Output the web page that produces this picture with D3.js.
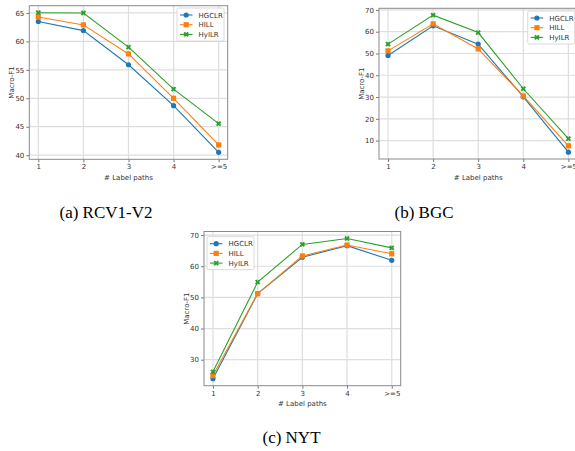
<!DOCTYPE html>
<html><head><meta charset="utf-8">
<script src="https://cdn.jsdelivr.net/npm/d3@7"></script>
<style>
html,body{margin:0;padding:0;background:#fff;}
svg{display:block;}
.tick text{font-family:"DejaVu Sans",sans-serif;font-size:7px;fill:#333;}
.cap{font-family:"Liberation Serif","Times New Roman",serif;font-size:17px;fill:#000;}
</style></head>
<body>
<svg id="chart" width="575" height="451"></svg>
<script>
// ---- data ----
const categories = ["1", "2", "3", "4", ">=5"];
const seriesNames = ["HGCLR", "HILL", "HyILR"];

const rcvHGCLR = [63.5, 61.9, 55.9, 48.7, 40.5];
const rcvHILL  = [64.3, 62.9, 57.8, 50.0, 41.8];
const rcvHyILR = [65.05, 65.0, 59.0, 51.6, 45.55];

const bgcHGCLR = [49.1, 62.7, 54.3, 30.1, 4.7];
const bgcHILL  = [51.2, 63.6, 52.1, 30.5, 7.6];
const bgcHyILR = [54.3, 67.6, 59.6, 33.8, 10.9];

const nytHGCLR = [23.9, 51.2, 62.9, 66.6, 61.9];
const nytHILL  = [24.9, 51.2, 63.3, 66.8, 64.0];
const nytHyILR = [26.1, 54.9, 67.0, 68.9, 65.9];

const rcvTicks = [40, 45, 50, 55, 60, 65];
const bgcTicks = [10, 20, 30, 40, 50, 60, 70];
const nytTicks = [30, 40, 50, 60, 70];

const captions = ["(a) RCV1-V2", "(b) BGC", "(c) NYT"];

// ---- layout ----
const colors = ["#1f77b4", "#ff7f0e", "#2ca02c"];
const svg = d3.select("#chart");

const panels = [
  {box:{l:29.3, t:5.7, w:198.4, h:153.6}, series:[rcvHGCLR, rcvHILL, rcvHyILR], ticks:rcvTicks,
   legend:{x:177, y:8}, caption:{x:106, y:218}, text:captions[0]},
  {box:{l:379, t:8.3, w:198.4, h:150.7}, series:[bgcHGCLR, bgcHILL, bgcHyILR], ticks:bgcTicks,
   legend:{x:527.7, y:11}, caption:{x:424, y:218}, text:captions[1]},
  {box:{l:204, t:231.5, w:196.7, h:154.2}, series:[nytHGCLR, nytHILL, nytHyILR], ticks:nytTicks,
   legend:{x:207, y:236.7}, caption:{x:291.5, y:443}, text:captions[2]}
];

function marker(g, i, cx, cy) {
  if (i === 0) {
    g.append("circle").attr("cx", cx).attr("cy", cy).attr("r", 2.6).attr("fill", colors[i]);
  } else if (i === 1) {
    g.append("rect").attr("x", cx - 2.6).attr("y", cy - 2.6).attr("width", 5.2).attr("height", 5.2).attr("fill", colors[i]);
  } else {
    g.append("path").attr("d", d3.symbol().type(d3.symbolCross).size(18)())
      .attr("transform", `translate(${cx},${cy}) rotate(45)`).attr("fill", colors[i]);
  }
}

panels.forEach(p => {
  const b = p.box;
  const all = p.series.flat();
  const mn = d3.min(all), mx = d3.max(all), pad = (mx - mn) * 0.05;
  const x = d3.scalePoint().domain(categories).range([b.l + b.w * 0.2 / 4.4, b.l + b.w * 4.2 / 4.4]);
  const y = d3.scaleLinear().domain([mn - pad, mx + pad]).range([b.t + b.h, b.t]);

  const g = svg.append("g");
  // grid
  g.append("g").selectAll("line").data(categories).join("line")
    .attr("x1", d => x(d)).attr("x2", d => x(d)).attr("y1", b.t).attr("y2", b.t + b.h)
    .attr("stroke", "#dedede").attr("stroke-width", 1.2);
  g.append("g").selectAll("line").data(p.ticks).join("line")
    .attr("x1", b.l).attr("x2", b.l + b.w).attr("y1", d => y(d)).attr("y2", d => y(d))
    .attr("stroke", "#dedede").attr("stroke-width", 1.2);

  // axes
  const xa = g.append("g").attr("transform", `translate(0,${b.t + b.h})`)
    .call(d3.axisBottom(x).tickSize(3).tickPadding(2));
  const ya = g.append("g").attr("transform", `translate(${b.l},0)`)
    .call(d3.axisLeft(y).tickValues(p.ticks).tickSize(3).tickPadding(2));
  [xa, ya].forEach(a => {
    a.select(".domain").remove();
    a.selectAll(".tick line").attr("stroke", "#555").attr("stroke-width", 0.8);
  });
  // frame
  g.append("rect").attr("x", b.l).attr("y", b.t).attr("width", b.w).attr("height", b.h)
    .attr("fill", "none").attr("stroke", "#8a8a8a").attr("stroke-width", 1);

  // lines + markers
  p.series.forEach((s, i) => {
    const line = d3.line().x((d, j) => x(categories[j])).y(d => y(d));
    g.append("path").datum(s).attr("d", line).attr("fill", "none")
      .attr("stroke", colors[i]).attr("stroke-width", 1.1);
    const mg = g.append("g");
    s.forEach((v, j) => marker(mg, i, x(categories[j]), y(v)));
  });

  // legend
  const L = p.legend;
  const lg = g.append("g");
  lg.append("rect").attr("x", L.x).attr("y", L.y).attr("width", 47).attr("height", 33).attr("rx", 1.5)
    .attr("fill", "rgba(255,255,255,0.85)").attr("stroke", "#d0d0d0").attr("stroke-width", 0.8);
  seriesNames.forEach((n, i) => {
    const cy = L.y + 7 + i * 9.7;
    lg.append("line").attr("x1", L.x + 3).attr("x2", L.x + 15.5).attr("y1", cy).attr("y2", cy)
      .attr("stroke", colors[i]).attr("stroke-width", 1.1);
    marker(lg, i, L.x + 9.2, cy);
    lg.append("text").attr("x", L.x + 21.5).attr("y", cy + 2.5).text(n)
      .attr("font-family", "DejaVu Sans, sans-serif").attr("font-size", 7).attr("fill", "#333");
  });

  // axis labels
  g.append("text").attr("x", b.l + b.w / 2).attr("y", b.t + b.h + 20.5).attr("text-anchor", "middle")
    .attr("font-family", "DejaVu Sans, sans-serif").attr("font-size", 7).attr("fill", "#333").text("# Label paths");
  g.append("text").attr("transform", `translate(${b.l - 15},${b.t + b.h / 2}) rotate(-90)`)
    .attr("text-anchor", "middle").attr("font-family", "DejaVu Sans, sans-serif").attr("font-size", 7)
    .attr("fill", "#333").text("Macro-F1");

  // caption
  svg.append("text").attr("class", "cap").attr("x", p.caption.x).attr("y", p.caption.y)
    .attr("text-anchor", "middle").text(p.text);
});
</script>
</body></html>
